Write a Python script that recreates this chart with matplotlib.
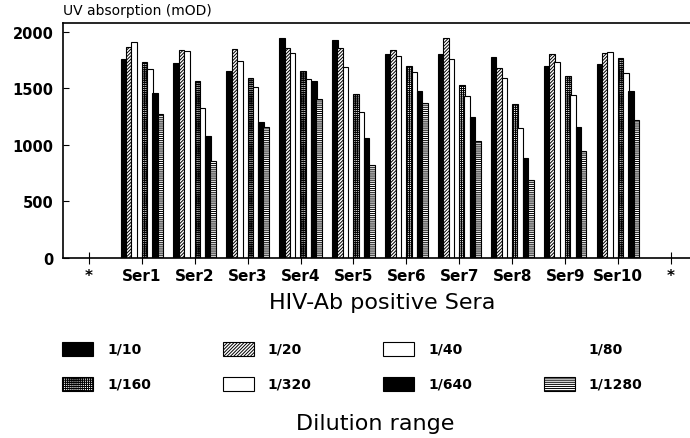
import numpy as np
import matplotlib.pyplot as plt
from matplotlib.patches import Rectangle

# x categories (the two "*" are empty positions at both ends)
sera = ['*', 'Ser1', 'Ser2', 'Ser3', 'Ser4', 'Ser5', 'Ser6', 'Ser7', 'Ser8', 'Ser9', 'Ser10', '*']
dilutions = ['1/10', '1/20', '1/40', '1/80', '1/160', '1/320', '1/640', '1/1280']

# UV absorption (mOD) for Ser1..Ser10
d10 = [1758, 1720, 1655, 1944, 1929, 1803, 1803, 1779, 1699, 1714]
d20 = [1862, 1838, 1847, 1853, 1853, 1838, 1944, 1676, 1803, 1809]
d40 = [1912, 1832, 1738, 1812, 1690, 1782, 1758, 1588, 1729, 1818]
d80 = None  # 1/80 has no visible bars
d160 = [1729, 1561, 1588, 1655, 1449, 1694, 1528, 1360, 1605, 1765]
d320 = [1670, 1322, 1508, 1581, 1292, 1641, 1434, 1145, 1440, 1635]
d640 = [1458, 1080, 1204, 1566, 1059, 1478, 1248, 880, 1160, 1478]
d1280 = [1272, 853, 1160, 1404, 823, 1366, 1030, 688, 947, 1219]
series = [d10, d20, d40, d80, d160, d320, d640, d1280]

# face colour, hatch
styles = [('black', None), ('white', '//////////'), ('white', None), (None, None),
          ('white', '++++++++'), ('white', None), ('black', None), ('white', '--------')]

plt.rcParams['font.family'] = 'DejaVu Sans'
plt.rcParams['hatch.linewidth'] = 0.7

W, H = 690, 439
fig = plt.figure(figsize=(W / 100, H / 100), dpi=100)
ax = fig.add_axes([63 / W, 1 - 258.7 / H, (690 - 63) / W, (258.7 - 24.3) / H])

x = np.arange(1, 11)
step = 0.1
width = 0.105
for i, vals in enumerate(series):
    if vals is None:
        continue
    fc, hatch = styles[i]
    ax.bar(x + (i - 3.5) * step, vals, width=width, color=fc, hatch=hatch,
           edgecolor='black', linewidth=0.8, zorder=2)

ax.set_xlim(-0.49, 11.36)
ax.set_ylim(0, 2075)
ax.set_xticks(np.arange(len(sera)))
ax.set_xticklabels(sera, fontsize=11, fontweight='bold')
ax.set_yticks([0, 500, 1000, 1500, 2000])
ax.set_yticklabels(['0', '500', '1000', '1500', '2000'], fontsize=10.5, fontweight='bold')
ax.tick_params(axis='x', direction='inout', length=9, width=0.8, pad=3)
ax.tick_params(axis='y', direction='in', length=4, width=0.8, pad=7)
ax.spines['right'].set_visible(False)
for s in ['left', 'bottom', 'top']:
    ax.spines[s].set_linewidth(1.2)

fig.text(63 / W, 1 - 11 / H, 'UV absorption (mOD)', fontsize=10, ha='left', va='center')
fig.text(382 / W, 1 - 303 / H, 'HIV-Ab positive Sera', fontsize=16, ha='center', va='center')
fig.text(375 / W, 1 - 424 / H, 'Dilution range', fontsize=16, ha='center', va='center')

# legend: two rows of four entries
for i, lab in enumerate(dilutions):
    row, col = divmod(i, 4)
    cx = 62 + col * 160.5
    cy = 350 + row * 35
    fc, hatch = styles[i]
    if fc is not None:
        fig.add_artist(Rectangle((cx / W, 1 - (cy + 7) / H), 31 / W, 14 / H,
                                 transform=fig.transFigure, facecolor=fc, hatch=hatch,
                                 edgecolor='black', linewidth=0.8))
    fig.text((cx + 45) / W, 1 - cy / H, lab, fontsize=10, fontweight='bold',
             ha='left', va='center')

fig.savefig('out.png', dpi=100)
